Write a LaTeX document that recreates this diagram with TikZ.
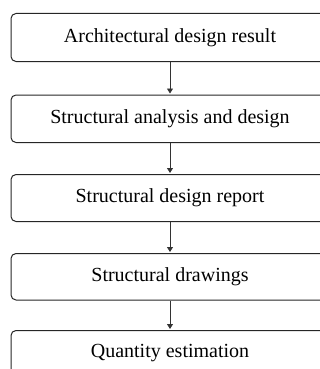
\documentclass[tikz,border=0pt]{standalone}
\usepackage{fontspec}
\setmainfont{Liberation Serif}
\usetikzlibrary{arrows.meta}
\begin{document}
\begin{tikzpicture}[x=1pt,y=1pt,
  stagebox/.style={draw=black!85, line width=1pt, rounded corners=5pt, minimum width=318pt, inner sep=0pt, font=\fontsize{20}{24}\selectfont, anchor=north},
  flow/.style={draw=black!80, line width=0.8pt, -{Triangle[length=5pt,width=6pt]}, shorten >=1pt}]
\useasboundingbox (0,0) rectangle (320,-369);
\clip (0,0) rectangle (320,-369);
\node[stagebox, minimum height=48pt] (a) at (170,-13) {Architectural design result};
\node[stagebox, minimum height=47.5pt] (b) at (170,-94.5) {Structural analysis and design};
\node[stagebox, minimum height=47pt] (c) at (170,-174) {Structural design report};
\node[stagebox, minimum height=46.5pt] (d) at (170,-253) {Structural drawings};
\node[stagebox, minimum height=47pt, text depth=0pt] (e) at (170,-330) {};
\node[font=\fontsize{20}{24}\selectfont] (et) at (170,-353.5) {Quantity estimation};
\draw[flow] (a.south) -- (b.north);
\draw[flow] (b.south) -- (c.north);
\draw[flow] (c.south) -- (d.north);
\draw[flow] (d.south) -- (e.north);
\end{tikzpicture}
\end{document}
